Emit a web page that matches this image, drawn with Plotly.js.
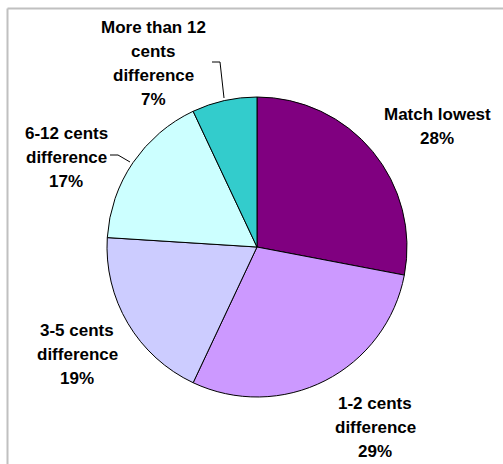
<!DOCTYPE html>
<html>
<head>
<meta charset="utf-8">
<script src="https://cdn.plot.ly/plotly-3.0.1.min.js"></script>
<style>html,body{margin:0;padding:0;background:#fff;}#chart{width:503px;height:464px;}</style>
</head>
<body>
<div id="chart"></div>
<script>
// Data
const categories = ["Match lowest", "1-2 cents difference", "3-5 cents difference", "6-12 cents difference", "More than 12 cents difference"];
const labelLines = [
  ["Match lowest"],
  ["1-2 cents", "difference"],
  ["3-5 cents", "difference"],
  ["6-12 cents", "difference"],
  ["More than 12", "cents", "difference"]
];
const values = [28, 29, 19, 17, 7];
const colors = ["#800080", "#CC99FF", "#CCCCFF", "#CCFFFF", "#33CCCC"];

// Layout helpers (label block centers in pixels from top-left)
const W = 503, H = 464;
const labelCenters = [[437, 126], [375, 427], [77, 354], [66, 158], [153, 63]];
const lineGap = 24;

const total = values.reduce((a, b) => a + b, 0);
const annotations = [];
categories.forEach((c, i) => {
  const lines = labelLines[i].concat([Math.round(values[i] / total * 100) + "%"]);
  const n = lines.length;
  lines.forEach((t, k) => {
    const py = labelCenters[i][1] + (k - (n - 1) / 2) * lineGap;
    annotations.push({
      xref: "paper", yref: "paper",
      x: labelCenters[i][0] / W, y: 1 - py / H,
      xanchor: "center", yanchor: "middle",
      text: "<b>" + t + "</b>", showarrow: false,
      font: {family: "Arial, 'Liberation Sans', sans-serif", size: 17, color: "#000"}
    });
  });
});

function px(x) { return x / W; }
function py(y) { return 1 - y / H; }
const leader = {color: "#000", width: 1};
const shapes = [
  // chart area border (left and top)
  {type: "line", xref: "paper", yref: "paper", x0: px(7.5), y0: py(8.5), x1: px(503), y1: py(8.5), line: {color: "#C0C0C0", width: 2}},
  {type: "line", xref: "paper", yref: "paper", x0: px(7.5), y0: py(8.5), x1: px(7.5), y1: py(464), line: {color: "#C0C0C0", width: 2}}
];
const leaders = [
  [[110, 155], [118, 155], [130, 162]],
  [[212, 62], [220, 62], [224, 98]]
];
leaders.forEach(pts => {
  for (let k = 0; k < pts.length - 1; k++) {
    shapes.push({type: "line", xref: "paper", yref: "paper",
      x0: px(pts[k][0]), y0: py(pts[k][1]), x1: px(pts[k + 1][0]), y1: py(pts[k + 1][1]), line: leader});
  }
});

const trace = {
  type: "pie",
  labels: categories,
  values: values,
  sort: false,
  direction: "clockwise",
  rotation: 0,
  textinfo: "none",
  marker: {colors: colors, line: {color: "#000", width: 1}},
  domain: {x: [107 / W, 407 / W], y: [67 / H, 367 / H]},
  showlegend: false
};

const layout = {
  width: W, height: H,
  margin: {l: 0, r: 0, t: 0, b: 0},
  paper_bgcolor: "#fff",
  showlegend: false,
  annotations: annotations,
  shapes: shapes
};

Plotly.newPlot("chart", [trace], layout, {staticPlot: true});
</script>
</body>
</html>
